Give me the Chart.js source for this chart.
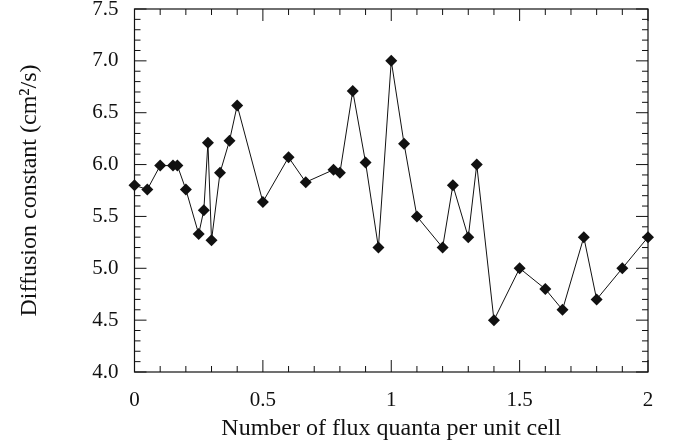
<!DOCTYPE html>
<html>
<head>
<meta charset="utf-8">
<script src="https://cdn.jsdelivr.net/npm/chart.js@4"></script>
<style>
html,body{margin:0;padding:0;background:#fff;}
#wrap{width:675px;height:446px;}
</style>
</head>
<body>
<div id="wrap"><canvas id="c" width="675" height="446"></canvas></div>
<script>
const fluxQuanta = [0, 0.05, 0.1, 0.15, 0.167, 0.2, 0.25, 0.27, 0.286, 0.3, 0.333, 0.37, 0.4, 0.5, 0.6, 0.667, 0.775, 0.8, 0.85, 0.9, 0.95, 1.0, 1.05, 1.1, 1.2, 1.24, 1.3, 1.333, 1.4, 1.5, 1.6, 1.667, 1.75, 1.8, 1.9, 2.0];
const diffusion = [5.80, 5.76, 5.99, 5.99, 5.99, 5.76, 5.33, 5.56, 6.21, 5.27, 5.92, 6.23, 6.57, 5.64, 6.07, 5.83, 5.95, 5.92, 6.71, 6.02, 5.20, 7.00, 6.20, 5.50, 5.20, 5.80, 5.30, 6.00, 4.50, 5.00, 4.80, 4.60, 5.30, 4.70, 5.00, 5.30];
const xTickLabels = ['0', '0.5', '1', '1.5', '2'];
const yTickLabels = ['4.0', '4.5', '5.0', '5.5', '6.0', '6.5', '7.0', '7.5'];

const FONT = 'Liberation Serif';

const framePlugin = {
  id: 'frame',
  beforeDatasetsDraw(chart) {
    const ctx = chart.ctx;
    const a = chart.chartArea;
    const xs = chart.scales.x, ys = chart.scales.y;
    ctx.save();
    ctx.strokeStyle = '#111';
    ctx.lineWidth = 1.2;
    ctx.strokeRect(a.left, a.top, a.right - a.left, a.bottom - a.top);
    ctx.lineWidth = 1;
    ctx.beginPath();
    for (let i = 0; i <= 20; i++) {
      const v = i / 10;
      const px = xs.getPixelForValue(v);
      const len = (i % 5 === 0) ? 12 : 6;
      ctx.moveTo(px, a.bottom); ctx.lineTo(px, a.bottom - len);
      ctx.moveTo(px, a.top); ctx.lineTo(px, a.top + len);
    }
    for (let i = 0; i <= 35; i++) {
      const v = 4 + i / 10;
      const py = ys.getPixelForValue(v);
      const len = (i % 5 === 0) ? 12 : 6;
      ctx.moveTo(a.left, py); ctx.lineTo(a.left + len, py);
      ctx.moveTo(a.right, py); ctx.lineTo(a.right - len, py);
    }
    ctx.stroke();
    ctx.restore();
  }
};

function zeroPad(s) { s.paddingTop = 0; s.paddingBottom = 0; s.paddingLeft = 0; s.paddingRight = 0; }

new Chart(document.getElementById('c'), {
  type: 'scatter',
  data: {
    datasets: [{
      data: fluxQuanta.map((x, i) => ({x: x, y: diffusion[i]})),
      showLine: true,
      borderColor: '#111',
      borderWidth: 1,
      backgroundColor: '#111',
      pointStyle: 'rectRot',
      pointRadius: 6,
      pointHoverRadius: 6,
      pointBorderWidth: 0,
      clip: false
    }]
  },
  plugins: [framePlugin],
  options: {
    responsive: false,
    animation: false,
    events: [],
    layout: {padding: {left: 0, top: 9, right: 27, bottom: 0}},
    plugins: {legend: {display: false}, tooltip: {enabled: false}},
    scales: {
      x: {
        type: 'linear', min: 0, max: 2,
        grid: {display: false, drawTicks: false},
        border: {display: false},
        ticks: {
          stepSize: 0.5, padding: 16, color: '#111', maxRotation: 0,
          font: {family: FONT, size: 21},
          callback: (v) => { const k = Math.round(v * 2); return (Math.abs(v * 2 - k) < 1e-6) ? xTickLabels[k] : ''; }
        },
        title: {display: true, text: 'Number of flux quanta per unit cell', color: '#111',
          font: {family: FONT, size: 24}, padding: {top: 0, bottom: 3}},
        afterFit: (s) => { s.height = 74; zeroPad(s); }
      },
      y: {
        type: 'linear', min: 4, max: 7.5,
        grid: {display: false, drawTicks: false},
        border: {display: false},
        ticks: {
          stepSize: 0.5, padding: 16, color: '#111',
          font: {family: FONT, size: 21},
          callback: (v) => { const k = Math.round((v - 4) * 2); return (Math.abs((v - 4) * 2 - k) < 1e-6) ? yTickLabels[k] : ''; }
        },
        title: {display: true, text: 'Diffusion constant (cm²/s)', color: '#111',
          font: {family: FONT, size: 24}, padding: {top: 15, bottom: 0}},
        afterFit: (s) => { s.width = 134.5; zeroPad(s); }
      }
    }
  }
});
</script>
</body>
</html>
